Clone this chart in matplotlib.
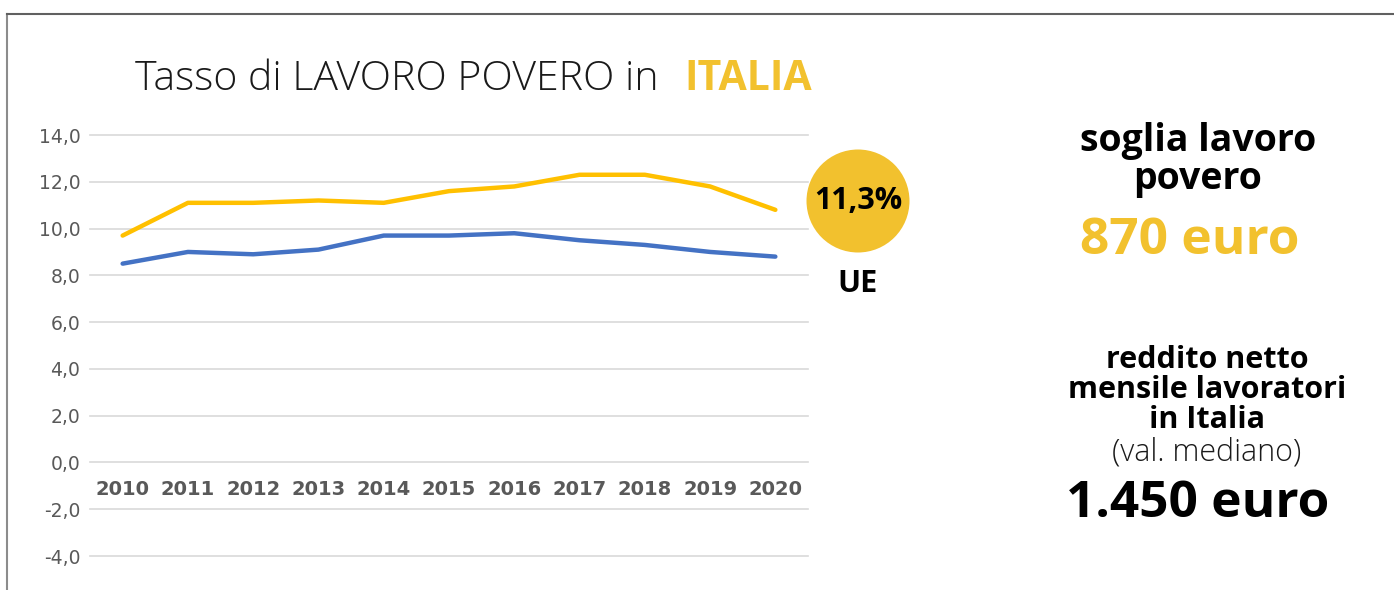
import numpy as np
import matplotlib.pyplot as plt
from matplotlib.patches import Ellipse
from matplotlib.lines import Line2D

# data
years = ["2010", "2011", "2012", "2013", "2014", "2015",
         "2016", "2017", "2018", "2019", "2020"]
italia = [9.7, 11.1, 11.1, 11.2, 11.1, 11.6, 11.8, 12.3, 12.3, 11.8, 10.8]
ue = [8.5, 9.0, 8.9, 9.1, 9.7, 9.7, 9.8, 9.5, 9.3, 9.0, 8.8]
y_ticks = [-4, -2, 0, 2, 4, 6, 8, 10, 12, 14]
ue_value = "11,3%"

YELLOW = "#FFC000"
BLUE = "#4472C4"
GOLD = "#F2C12E"
GRAY = "#595959"

W, H = 1394, 590
fig = plt.figure(figsize=(W / 100, H / 100), dpi=100)

# axes in pixel coords: plot area x 90..808, y 135..556
ax = fig.add_axes([90 / W, 1 - 556 / H, (808 - 90) / W, (556 - 135) / H])
x = np.arange(len(years))
ax.set_xlim(-0.5, len(years) - 0.5)
ax.set_ylim(-4, 14)

for yv in y_ticks:
    ax.axhline(yv, color="#D9D9D9", lw=1.2, zorder=0, clip_on=False)

ax.plot(x, italia, color=YELLOW, lw=3.2, solid_capstyle="round", zorder=3)
ax.plot(x, ue, color=BLUE, lw=3.2, solid_capstyle="round", zorder=3)

ax.set_yticks(y_ticks)
ax.set_yticklabels([f"{v:.1f}".replace(".", ",") for v in y_ticks],
                   fontsize=13.5, color=GRAY, family="DejaVu Sans")
ax.tick_params(axis="y", length=0, pad=7)
ax.set_xticks([])
# year labels sit just under the zero line
for xi, lab in zip(x, years):
    ax.text(xi, -1.15, lab, ha="center", va="center", fontsize=14,
            fontweight="bold", color=GRAY, family="DejaVu Sans",
            bbox=dict(facecolor="white", edgecolor="none", pad=1))
for s in ax.spines.values():
    s.set_visible(False)
ax.patch.set_alpha(0)

# frame lines
fig.add_artist(Line2D([7 / W, 7 / W], [0, 1 - 14 / H], color="#8C8C8C", lw=1.5))
fig.add_artist(Line2D([7 / W, 1], [1 - 14 / H, 1 - 14 / H], color="#606060", lw=1.5))

# title
fig.text(135 / W, 1 - 79 / H, "Tasso di LAVORO POVERO in", fontsize=29.5,
         family="Open Sans", fontweight="light", color="#1A1A1A",
         ha="left", va="center")
fig.text(684 / W, 1 - 79 / H, "ITALIA", fontsize=29.5, family="Open Sans",
         fontweight="bold", color=GOLD, ha="left", va="center")

# UE circle
circ = Ellipse((858 / W, 1 - 201 / H), 103 / W, 103 / H, transform=fig.transFigure,
               facecolor=GOLD, edgecolor="none")
fig.add_artist(circ)
fig.text(858 / W, 1 - 201 / H, ue_value, fontsize=22, family="Open Sans",
         fontweight="bold", color="black", ha="center", va="center")
fig.text(858 / W, 1 - 284 / H, "UE", fontsize=22, family="Open Sans",
         fontweight="bold", color="black", ha="center", va="center")

# right side text
fig.text(1198 / W, 1 - 141 / H, "soglia lavoro", fontsize=27, family="Open Sans",
         fontweight="bold", color="black", ha="center", va="center")
fig.text(1198 / W, 1 - 179 / H, "povero", fontsize=27, family="Open Sans",
         fontweight="bold", color="black", ha="center", va="center")
fig.text(1190 / W, 1 - 241 / H, "870 euro", fontsize=37, family="Open Sans",
         fontweight="bold", color=GOLD, ha="center", va="center")

for yy, line in zip([360, 390, 420], ["reddito netto", "mensile lavoratori", "in Italia"]):
    fig.text(1207 / W, 1 - yy / H, line, fontsize=22, family="Open Sans",
             fontweight="bold", color="black", ha="center", va="center")
fig.text(1207 / W, 1 - 452 / H, "(val. mediano)", fontsize=22, family="Open Sans",
         fontweight="light", color="#1A1A1A", ha="center", va="center")
fig.text(1198 / W, 1 - 504 / H, "1.450 euro", fontsize=37, family="Open Sans",
         fontweight="bold", color="black", ha="center", va="center")

fig.savefig("out.png", dpi=100, facecolor="white")
